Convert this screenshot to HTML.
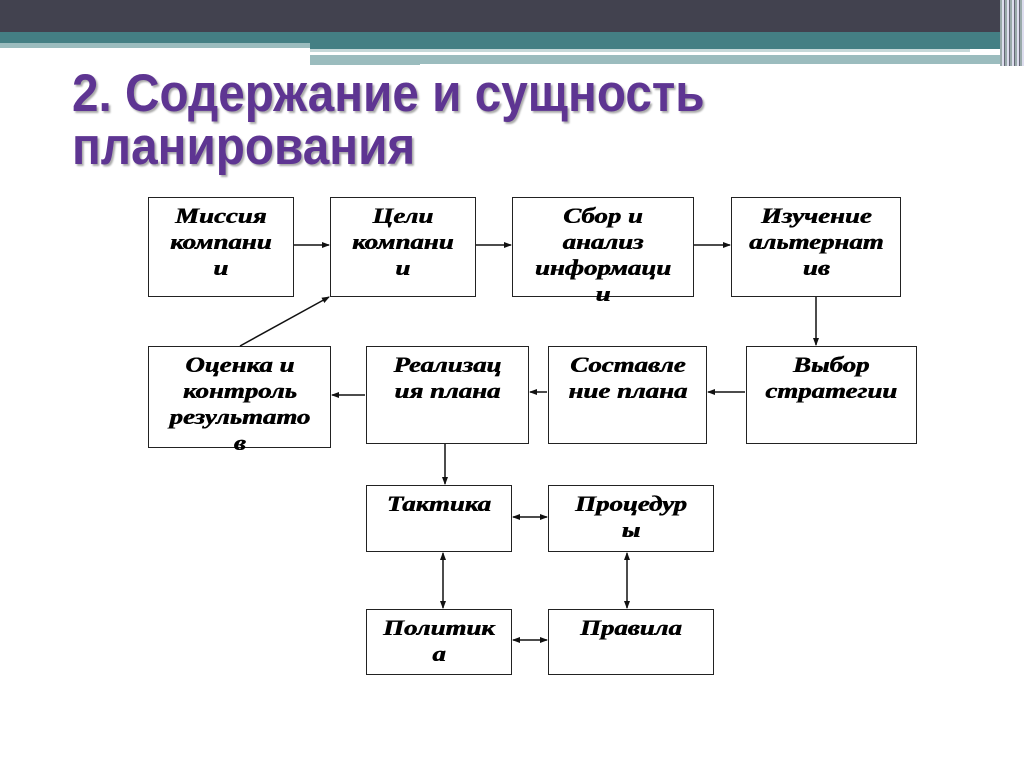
<!DOCTYPE html>
<html><head><meta charset="utf-8"><style>
body{margin:0;width:1024px;height:767px;background:#fff;position:relative;overflow:hidden;font-family:"Liberation Sans",sans-serif}
.b{position:absolute;border:1.5px solid #222;box-sizing:border-box;text-align:center;font-family:"Liberation Serif",serif;font-style:italic;font-weight:bold;font-size:22px;line-height:26px;padding-top:5px;color:#000}
.b span{display:inline-block;transform:scaleX(1.22);transform-origin:center top;text-shadow:0.6px 0 0 #000}
.t{position:absolute;left:72px;top:67px;font-size:53px;font-weight:bold;color:#5e3592;line-height:53px;text-shadow:2px 2px 2px #aaa;transform:scaleX(0.9);transform-origin:left top;white-space:nowrap}
</style></head><body>
<div style="position:absolute;left:0;top:0;width:1024px;height:32px;background:#42424f"></div>
<div style="position:absolute;left:0;top:32px;width:1010px;height:11px;background:#447f84"></div>
<div style="position:absolute;left:0;top:43px;width:310px;height:5px;background:#9bbcbe"></div>
<div style="position:absolute;left:310px;top:43px;width:700px;height:6px;background:#447f84"></div>
<div style="position:absolute;left:310px;top:49px;width:660px;height:3px;background:#c5d8d9"></div>
<div style="position:absolute;left:310px;top:55px;width:700px;height:10px;background:#9bbcbe"></div>
<div style="position:absolute;left:420px;top:64px;width:590px;height:3px;background:#fff"></div>
<div style="position:absolute;left:1000px;top:0;width:24px;height:66px;background:repeating-linear-gradient(90deg,#9aa 0 2px,#dde 2px 4px,#667 4px 5px)"></div>
<div class="t">2. Содержание и сущность<br>планирования</div>

<div class="b" style="left:148px;top:197px;width:146px;height:100px"><span>Миссия<br>компани<br>и</span></div>
<div class="b" style="left:330px;top:197px;width:146px;height:100px"><span>Цели<br>компани<br>и</span></div>
<div class="b" style="left:512px;top:197px;width:182px;height:100px"><span>Сбор и<br>анализ<br>информаци<br>и</span></div>
<div class="b" style="left:731px;top:197px;width:170px;height:100px"><span>Изучение<br>альтернат<br>ив</span></div>
<div class="b" style="left:148px;top:346px;width:183px;height:102px"><span>Оценка и<br>контроль<br>результато<br>в</span></div>
<div class="b" style="left:366px;top:346px;width:163px;height:98px"><span>Реализац<br>ия плана</span></div>
<div class="b" style="left:548px;top:346px;width:159px;height:98px"><span>Составле<br>ние плана</span></div>
<div class="b" style="left:746px;top:346px;width:171px;height:98px"><span>Выбор<br>стратегии</span></div>
<div class="b" style="left:366px;top:485px;width:146px;height:67px"><span>Тактика</span></div>
<div class="b" style="left:548px;top:485px;width:166px;height:67px"><span>Процедур<br>ы</span></div>
<div class="b" style="left:366px;top:609px;width:146px;height:66px"><span>Политик<br>а</span></div>
<div class="b" style="left:548px;top:609px;width:166px;height:66px"><span>Правила</span></div>

<svg width="1024" height="767" style="position:absolute;left:0;top:0">
<defs><marker id="a" markerWidth="8" markerHeight="8" refX="7" refY="4" orient="auto-start-reverse" markerUnits="userSpaceOnUse"><path d="M0,1 L8,4 L0,7z" fill="#111"/></marker></defs>
<g stroke="#111" stroke-width="1.5" fill="none">
<line x1="294" y1="245" x2="329" y2="245" marker-end="url(#a)"/>
<line x1="476" y1="245" x2="511" y2="245" marker-end="url(#a)"/>
<line x1="694" y1="245" x2="730" y2="245" marker-end="url(#a)"/>
<line x1="816" y1="297" x2="816" y2="345" marker-end="url(#a)"/>
<line x1="745" y1="392" x2="708" y2="392" marker-end="url(#a)"/>
<line x1="547" y1="392" x2="530" y2="392" marker-end="url(#a)"/>
<line x1="365" y1="395" x2="332" y2="395" marker-end="url(#a)"/>
<line x1="240" y1="346" x2="329" y2="297" marker-end="url(#a)"/>
<line x1="445" y1="444" x2="445" y2="484" marker-end="url(#a)"/>
<line x1="513" y1="517" x2="547" y2="517" marker-start="url(#a)" marker-end="url(#a)"/>
<line x1="443" y1="553" x2="443" y2="608" marker-start="url(#a)" marker-end="url(#a)"/>
<line x1="627" y1="553" x2="627" y2="608" marker-start="url(#a)" marker-end="url(#a)"/>
<line x1="513" y1="640" x2="547" y2="640" marker-start="url(#a)" marker-end="url(#a)"/>
</g></svg>
</body></html>
